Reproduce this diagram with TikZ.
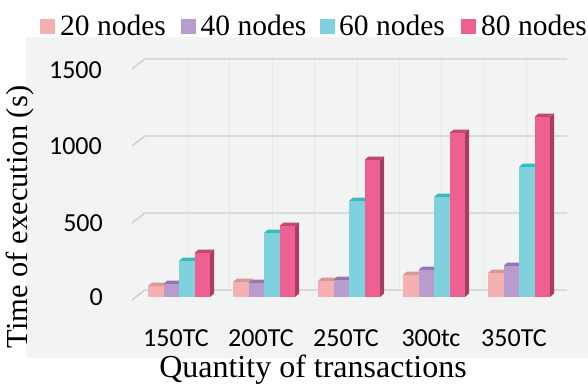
\documentclass[tikz,border=0pt]{standalone}
\usepackage{fontspec}
\setmainfont{Liberation Serif}
\newfontfamily\calib{Carlito}
\definecolor{panel}{HTML}{F2F3F3}
\definecolor{gridc}{HTML}{CDCDCD}
\definecolor{vgrid}{HTML}{E8EAEA}
\definecolor{pinkF}{HTML}{F5B0B2}
\definecolor{pinkT}{HTML}{D69A94}
\definecolor{purF}{HTML}{B89CCB}
\definecolor{purT}{HTML}{9A72B6}
\definecolor{cyaF}{HTML}{80D1DE}
\definecolor{cyaT}{HTML}{36BDBB}
\definecolor{magF}{HTML}{EF6092}
\definecolor{magT}{HTML}{BE4A74}
\definecolor{magS}{HTML}{A63D64}
\tikzset{
  gridline/.style={draw=gridc, line width=1.4pt},
  ticklab/.style={font=\calib\fontsize{26}{26}\selectfont, inner sep=0pt},
  legtext/.style={font=\fontsize{29.5}{30}\selectfont, inner sep=0pt, anchor=base west},
  axtitle/.style={font=\fontsize{32}{32}\selectfont, inner sep=0pt, anchor=base},
}
% bar: x0, top y, front colour, top colour, side colour
\newcommand{\mybar}[5]{%
  \fill[#5] (#1+15.5,297) -- (#1+15.5,#2) -- (#1+19.5,#2-3.5) -- (#1+19.5,293.5) -- cycle;
  \fill[#4] (#1,#2) -- (#1+15.5,#2) -- (#1+19.5,#2-3.5) -- (#1+4,#2-3.5) -- cycle;
  \fill[#3] (#1,297) rectangle (#1+15.5,#2);
}
\newcommand{\mygroup}[5]{%
  \mybar{#1}{#2}{pinkF}{pinkT}{pinkT}
  \mybar{#1+15.5}{#3}{purF}{purT}{purT}
  \mybar{#1+31}{#4}{cyaF}{cyaT}{cyaT}
  \mybar{#1+46.5}{#5}{magF}{magT}{magS}
}
\begin{document}
\begin{tikzpicture}[x=1pt,y=-1pt]
\useasboundingbox (0,0) rectangle (588,385);
\fill[white] (0,0) rectangle (588,385);
\fill[panel] (26,37) rectangle (588,358);
% faint vertical wall lines
\foreach \k in {1,...,9} {
  \draw[vgrid, line width=0.8pt] (145+42.4*\k,59) -- (145+42.4*\k,290);
}
% gridlines
\foreach \yb in {59,136,213,290} {
  \draw[gridline] (132,\yb+10) -- (145,\yb) -- (567,\yb);
}
% y tick labels
\node[ticklab, anchor=east] (y1500) at (102,70.5) {1500};
\node[ticklab, anchor=east] (y1000) at (102,146) {1000};
\node[ticklab, anchor=east] (y500) at (103,223) {500};
\node[ticklab, anchor=east] (y0) at (103,297) {0};
% bars
\mygroup{148}{286}{284}{261}{253}
\mygroup{233}{282}{283}{233}{226}
\mygroup{318}{281}{280}{201}{160}
\mygroup{403}{275}{270}{197}{133}
\mygroup{488}{273}{266}{167}{117}
% x tick labels
\node[ticklab, anchor=base] (x1) at (176,346) {150TC};
\node[ticklab, anchor=base] (x2) at (261,346) {200TC};
\node[ticklab, anchor=base] (x3) at (346,346) {250TC};
\node[ticklab, anchor=base] (x4) at (431,346) {300tc};
\node[ticklab, anchor=base] (x5) at (514,346) {350TC};
% axis titles
\node[axtitle] (xt) at (313,377) {Quantity of transactions};
\node[axtitle, font=\fontsize{30.5}{31}\selectfont, rotate=90] (yt) at (27,217) {Time of execution (s)};
% legend
\fill[pinkF] (40,19) rectangle (55,34);
\node[legtext] (l1) at (60,35.5) {20 nodes};
\fill[purF] (181,19) rectangle (196,34);
\node[legtext] (l2) at (200.5,35.5) {40 nodes};
\fill[cyaF] (320,19) rectangle (335,34);
\node[legtext] (l3) at (339,35.5) {60 nodes};
\fill[magF] (461,19) rectangle (476,34);
\node[legtext] (l4) at (481,35.5) {80 nodes};
\end{tikzpicture}
\end{document}
